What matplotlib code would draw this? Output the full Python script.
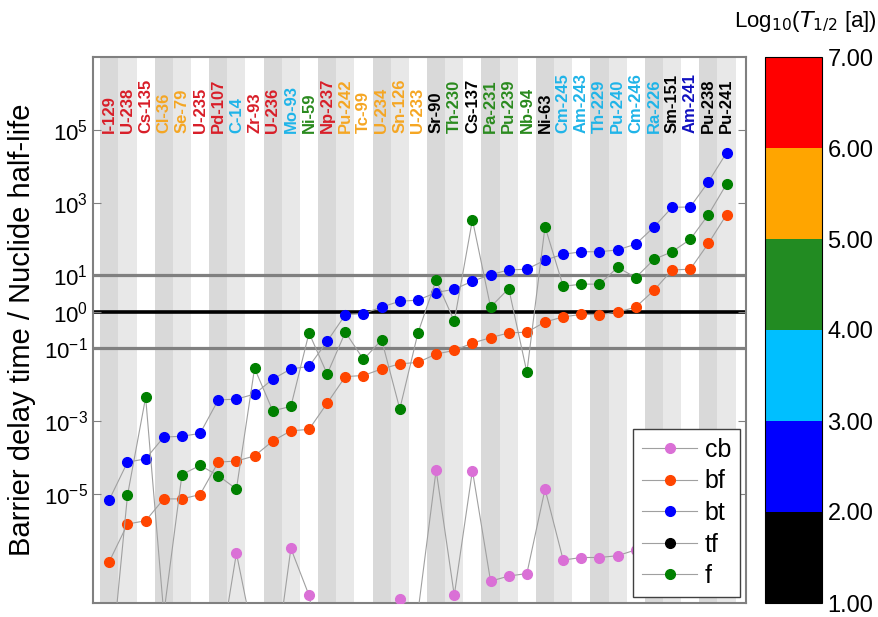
import numpy as np
import matplotlib
matplotlib.use("Agg")
import matplotlib.pyplot as plt
from matplotlib.colors import ListedColormap, BoundaryNorm
from matplotlib.cm import ScalarMappable
from matplotlib.ticker import NullLocator

plt.rcParams['font.family'] = ['Liberation Sans', 'DejaVu Sans']

# nuclides, sorted as on the x axis
nuclides = ['I-129', 'U-238', 'Cs-135', 'Cl-36', 'Se-79', 'U-235', 'Pd-107', 'C-14', 'Zr-93',
            'U-236', 'Mo-93', 'Ni-59', 'Np-237', 'Pu-242', 'Tc-99', 'U-234', 'Sn-126', 'U-233',
            'Sr-90', 'Th-230', 'Cs-137', 'Pa-231', 'Pu-239', 'Nb-94', 'Ni-63', 'Cm-245', 'Am-243',
            'Th-229', 'Pu-240', 'Cm-246', 'Ra-226', 'Sm-151', 'Am-241', 'Pu-238', 'Pu-241']

# log10 of half-life in years (sets label colour)
log_half_life = [7.20, 9.65, 6.36, 5.48, 5.47, 8.85, 6.81, 3.76, 6.18,
                 7.37, 3.60, 4.88, 6.33, 5.57, 5.33, 5.39, 5.36, 5.20,
                 1.46, 4.88, 1.48, 4.52, 4.38, 4.31, 1.99, 3.93, 3.87,
                 3.87, 3.82, 3.68, 3.20, 1.95, 2.64, 1.94, 1.16]

# log10(barrier delay time / half-life)
nan = np.nan
cb_log = [nan, nan, nan, nan, nan, nan, -9.7, -6.63, -9.1,
          -10.2, -6.50, -7.79, -10.3, nan, nan, -8.5, -7.88, -8.25,
          -4.35, -7.79, -4.36, -7.40, -7.26, -7.19, -4.87, -6.82, -6.75,
          -6.75, -6.70, -6.54, -6.40, -6.30, -6.20, -6.10, -6.00]
bf_log = [-6.86, -5.83, -5.74, -5.14, -5.14, -5.02, -4.13, -4.10, -3.96,
          -3.55, -3.27, -3.23, -2.51, -1.78, -1.75, -1.57, -1.43, -1.39,
          -1.16, -1.06, -0.86, -0.71, -0.58, -0.56, -0.28, -0.14, -0.07,
          -0.08, -0.01, 0.13, 0.59, 1.15, 1.17, 1.88, 2.67]
bt_log = [-5.16, -4.13, -4.04, -3.44, -3.42, -3.34, -2.42, -2.40, -2.26,
          -1.85, -1.57, -1.50, -0.81, -0.08, -0.05, 0.13, 0.29, 0.32,
          0.53, 0.62, 0.84, 1.02, 1.15, 1.17, 1.42, 1.58, 1.65,
          1.65, 1.70, 1.86, 2.33, 2.87, 2.88, 3.57, 4.37]
tf_log = [nan] * 35
f_log = [-10.2, -5.04, -2.35, -8.3, -4.47, -4.22, -4.50, -4.87, -1.55,
         -2.72, -2.60, -0.58, -1.71, -0.56, -1.31, -0.77, -2.67, -0.58,
         0.87, -0.26, 2.53, 0.13, 0.64, -1.66, 2.34, 0.70, 0.76,
         0.76, 1.22, 0.94, 1.44, 1.65, 1.99, 2.67, 3.51]

series = [('cb', cb_log, '#da70d6'), ('bf', bf_log, '#ff4500'), ('bt', bt_log, '#0000ff'),
          ('tf', tf_log, '#000000'), ('f', f_log, '#008000')]

cmap = ListedColormap(['#000000', '#0000ff', '#00bfff', '#228b22', '#ffa500', '#ff0000'])
norm = BoundaryNorm([1, 2, 3, 4, 5, 6, 7], cmap.N, clip=True)
# label text colours per bin (slightly deeper than the colour bar)
text_cmap = ListedColormap(['#000000', '#1010c0', '#1fb4e8', '#2a8a1e', '#f5a623', '#d81e28'])

W, H = 879, 617
fig = plt.figure(figsize=(W / 100, H / 100), dpi=100)
ax = fig.add_axes([93 / W, 14 / H, 653 / W, 546 / H])
cax = fig.add_axes([765 / W, 14 / H, 57 / W, 546 / H])

x = np.arange(len(nuclides))

# alternating background bands
band_colors = ['#d9d9d9', '#e8e8e8', '#ffffff']
for i in x:
    ax.axvspan(i - 0.5, i + 0.5, color=band_colors[i % 3], lw=0, zorder=0)

ax.axhline(10, color='#808080', lw=2.3, zorder=1)
ax.axhline(1, color='black', lw=2.6, zorder=1)
ax.axhline(0.1, color='#808080', lw=2.3, zorder=1)

for name, vals, col in series:
    ax.plot(x, 10.0 ** np.array(vals), '-o', color='#a0a0a0', lw=0.8,
            mfc=col, mec=col, ms=7, label=name, zorder=3)

for i, name in enumerate(nuclides):
    ax.text(i, 8e4, name, rotation=90, ha='center', va='bottom', fontsize=12,
            fontweight='bold', color=text_cmap(norm(log_half_life[i])), zorder=4)

ax.set_yscale('log')
ax.set_ylim(1e-8, 1e7)
ax.set_xlim(-0.9, 35.07)
ax.set_xticks([])
yt = [1e5, 1e3, 1e1, 1e0, 1e-1, 1e-3, 1e-5]
ax.set_yticks(yt)
ax.set_yticklabels([r'$\mathregular{10^{%d}}$' % int(np.log10(v)) for v in yt])
ax.yaxis.set_minor_locator(NullLocator())
ax.tick_params(axis='y', direction='in', right=True, length=6, labelsize=16, color='#808080')
for s in ax.spines.values():
    s.set_color('#808080')
    s.set_linewidth(1.5)
ax.set_ylabel('Barrier delay time / Nuclide half-life', fontsize=21, labelpad=6)

leg = ax.legend(loc='lower right', fontsize=18, fancybox=False, edgecolor='#404040',
                framealpha=1, handlelength=2.2, handletextpad=0.3, labelspacing=0.3,
                borderaxespad=0.25, borderpad=0.35)
leg.set_zorder(5)

cbar = fig.colorbar(ScalarMappable(norm=norm, cmap=cmap), cax=cax,
                    ticks=[1, 2, 3, 4, 5, 6, 7], format='%.2f')
cax.tick_params(labelsize=17, length=0, pad=4)
cbar.outline.set_linewidth(0.8)
fig.text(805 / W, 1 - 22 / H, r'Log$_{10}$($T_{\mathit{1/2}}$ [a])', ha='center', va='center',
         fontsize=16)

fig.savefig('out.png', dpi=100)
